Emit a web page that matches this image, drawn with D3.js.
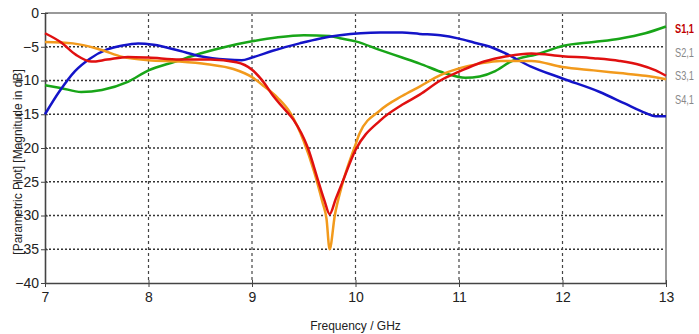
<!DOCTYPE html>
<html>
<head>
<meta charset="utf-8">
<script src="https://cdn.jsdelivr.net/npm/d3@7"></script>
<style>
  body { margin: 0; background: #fff; }
  svg { display: block; font-family: "Liberation Sans", Arial, sans-serif; }
</style>
</head>
<body>
<div id="chart"></div>
<script>
// S-parameter curves, frequency in GHz / magnitude in dB
const s11 = [[7.0,-3.0],[7.15,-4.3],[7.3,-6.2],[7.45,-7.2],[7.6,-6.9],[7.8,-6.5],[8.0,-6.6],[8.3,-6.9],[8.6,-6.9],
  [8.85,-7.3],[9.0,-8.4],[9.12,-10.4],[9.2,-12.2],[9.3,-14.0],[9.4,-15.8],[9.54,-20.0],[9.64,-24.9],[9.7,-27.8],
  [9.75,-29.8],[9.81,-27.5],[9.87,-25.2],[10.0,-20.3],[10.24,-15.9],[10.45,-13.6],[10.62,-12.1],[10.82,-10.0],
  [11.0,-8.7],[11.2,-7.4],[11.4,-6.6],[11.7,-6.0],[12.0,-6.4],[12.3,-6.7],[12.55,-7.1],[12.75,-7.7],[12.9,-8.5],[13.0,-9.3]]

const s21 = [[7.0,-4.3],[7.27,-4.5],[7.53,-5.4],[7.75,-6.5],[8.0,-7.0],[8.3,-7.2],[8.57,-7.6],[8.82,-8.3],[9.0,-9.5],
  [9.12,-10.9],[9.25,-12.6],[9.37,-14.8],[9.5,-19.0],[9.6,-23.5],[9.68,-28.0],[9.72,-30.5],[9.75,-35.0],[9.8,-30.0],
  [9.87,-25.5],[10.0,-19.5],[10.04,-17.8],[10.24,-14.4],[10.45,-12.3],[10.62,-10.9],[10.82,-9.2],[11.0,-8.2],
  [11.2,-7.5],[11.4,-7.1],[11.7,-7.1],[12.0,-8.0],[12.3,-8.5],[12.55,-8.9],[12.8,-9.3],[13.0,-9.8]]

const s31 = [[7.0,-10.7],[7.15,-11.1],[7.35,-11.7],[7.55,-11.4],[7.8,-10.2],[8.0,-8.5],[8.26,-7.2],[8.5,-6.0],
  [8.75,-5.0],[9.0,-4.2],[9.25,-3.6],[9.5,-3.3],[9.75,-3.4],[9.85,-3.75],[10.0,-4.2],[10.24,-5.5],[10.45,-6.6],
  [10.62,-7.5],[10.86,-8.9],[11.06,-9.6],[11.2,-9.4],[11.35,-8.6],[11.5,-7.2],[11.78,-6.0],[12.0,-4.9],[12.3,-4.3],
  [12.55,-3.8],[12.8,-3.0],[13.0,-2.0]]

const s41 = [[7.0,-15.0],[7.14,-11.6],[7.29,-8.6],[7.43,-6.8],[7.6,-5.4],[7.75,-4.8],[7.9,-4.5],[8.05,-4.7],
  [8.3,-5.6],[8.5,-6.4],[8.75,-6.9],[8.9,-7.0],[9.0,-6.6],[9.2,-5.6],[9.46,-4.5],[9.65,-3.8],[9.85,-3.3],
  [10.05,-3.0],[10.24,-2.9],[10.45,-2.9],[10.62,-3.1],[10.82,-3.3],[11.0,-3.8],[11.15,-4.4],[11.3,-5.0],
  [11.45,-6.0],[11.69,-7.9],[12.0,-9.7],[12.36,-11.7],[12.6,-13.4],[12.8,-14.8],[12.9,-15.3],[13.0,-15.3]]

const xTicks = [7, 8, 9, 10, 11, 12, 13]
const yTicks = [0, -5, -10, -15, -20, -25, -30, -35, -40]
const legendNames = ["S1,1", "S2,1", "S3,1", "S4,1"]

const W = 699, H = 334
const margin = { top: 13, right: 33, bottom: 51, left: 45 }

const svg = d3.select("#chart").append("svg")
    .attr("width", W)
    .attr("height", H)

const x = d3.scaleLinear().domain([7, 13]).range([margin.left, W - margin.right])
const y = d3.scaleLinear().domain([-40, 0]).range([H - margin.bottom, margin.top])

// grid
svg.append("g")
    .selectAll("line")
    .data(yTicks.filter(v => v !== 0 && v !== -40))
    .enter().append("line")
    .attr("x1", x(7)).attr("x2", x(13))
    .attr("y1", d => y(d)).attr("y2", d => y(d))
    .attr("stroke", "#333")
    .attr("stroke-width", 1.3)
    .attr("stroke-dasharray", "2,2")

svg.append("g")
    .selectAll("line")
    .data(xTicks.filter(v => v !== 7 && v !== 13))
    .enter().append("line")
    .attr("x1", d => x(d)).attr("x2", d => x(d))
    .attr("y1", y(0)).attr("y2", y(-40))
    .attr("stroke", "#444")
    .attr("stroke-width", 1.2)
    .attr("stroke-dasharray", "3,3")

// frame: top and right are light grey
svg.append("line")
    .attr("x1", x(7)).attr("x2", x(13)).attr("y1", y(0)).attr("y2", y(0))
    .attr("stroke", "#999").attr("stroke-width", 2)
svg.append("line")
    .attr("x1", x(13)).attr("x2", x(13)).attr("y1", y(0)).attr("y2", y(-40))
    .attr("stroke", "#999").attr("stroke-width", 2)

// axes
const xAxis = svg.append("g")
    .attr("transform", "translate(0," + y(-40) + ")")
    .call(d3.axisBottom(x).tickValues(xTicks).tickSize(4).tickSizeOuter(0).tickFormat(d3.format("d")))
xAxis.select(".domain").attr("stroke", "#444").attr("stroke-width", 1.6)
xAxis.selectAll(".tick line").attr("stroke", "#444").attr("y1", -3)
xAxis.selectAll("text")
    .attr("dy", "0.9em")
    .attr("y", 6)
    .style("font-size", "14px")
    .attr("fill", "#222")

const yAxis = svg.append("g")
    .attr("transform", "translate(" + x(7) + ",0)")
    .call(d3.axisLeft(y).tickValues(yTicks).tickSize(4).tickSizeOuter(0))
yAxis.select(".domain").attr("stroke", "#444").attr("stroke-width", 1.6)
yAxis.selectAll(".tick line").attr("stroke", "#444").attr("x1", 3)
yAxis.selectAll("text")
    .attr("x", -6)
    .style("font-size", "14px")
    .attr("fill", "#222")

// titles
svg.append("text")
    .attr("x", x(10))
    .attr("y", 330)
    .attr("text-anchor", "middle")
    .style("font-size", "12px")
    .attr("fill", "#222")
    .text("Frequency / GHz")

svg.append("text")
    .attr("transform", "translate(22," + ((y(0) + y(-40)) / 2 + 14) + ") rotate(-90)")
    .attr("text-anchor", "middle")
    .style("font-size", "12px")
    .attr("fill", "#222")
    .text("[Parametric Plot] [Magnitude in dB]")

// curves
const line = d3.line()
    .x(d => x(d[0]))
    .y(d => y(d[1]))
    .curve(d3.curveMonotoneX)

const series = [
    { data: s31, color: "#18a518" },
    { data: s41, color: "#1414c8" },
    { data: s21, color: "#f29a1c" },
    { data: s11, color: "#e01010" },
]

svg.append("g")
    .selectAll("path")
    .data(series)
    .enter().append("path")
    .attr("fill", "none")
    .attr("stroke", d => d.color)
    .attr("stroke-width", 2.5)
    .attr("stroke-linejoin", "round")
    .attr("d", d => line(d.data))

// legend
svg.append("g")
    .selectAll("text")
    .data(legendNames)
    .enter().append("text")
    .attr("x", 675)
    .attr("y", (d, i) => 33 + i * 23.7)
    .attr("textLength", 19)
    .attr("lengthAdjust", "spacingAndGlyphs")
    .style("font-size", "12px")
    .style("font-weight", (d, i) => i === 0 ? "bold" : "normal")
    .attr("fill", (d, i) => i === 0 ? "#c00000" : "#888")
    .text(d => d)
</script>
</body>
</html>
